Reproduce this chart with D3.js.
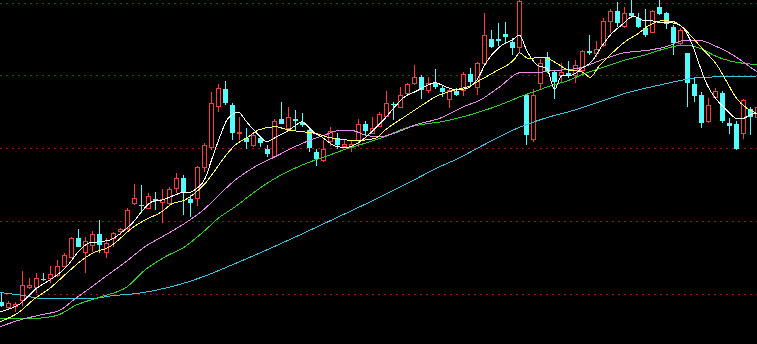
<!DOCTYPE html>
<html>
<head>
<meta charset="utf-8">
<script src="https://cdn.jsdelivr.net/npm/d3@7"></script>
<style>
  html, body { margin: 0; padding: 0; background: #000; overflow: hidden; }
  svg { display: block; }
</style>
</head>
<body>
<div id="chart-area"></div>
<script>
// candle values (price units), one entry per trading day
var opens = [42.3,37.3,38,44,57.3,57.3,64.7,66.3,69,78,
  87.3,105.7,92.3,99,110,92.3,105.7,112.7,115.7,141.3,
  139.5,135.7,145,142.3,141.3,155.7,165.7,144.7,145.7,176.7,
  196.7,238,254.7,239,210.7,205.7,199,205.7,194.7,188.3,
  224.7,216.3,224.7,222.3,214,192.3,184,203,205.7,198,
  197.3,204,220,211.3,218,228,240,237.3,251.3,260.7,
  266.7,254,261.3,255.7,244.7,253.3,254,270,256.7,281.3,
  304.7,304.7,310,302.3,296.7,249,204.7,260.7,287.3,272.3,
  269,271.3,269,274,293.3,291.3,299,323.3,333.3,318,
  331.3,325.7,315.7,312.3,337.3,330.7,317.3,300.7,290.7,260,
  249,223.3,246.7,250.7,220.7,220,211.3,234.7,227.3]
var closes = [38,41.3,40,59,59,65.7,64,69.7,78,89,
  105.7,96.7,103,110,99,101.3,110.7,114.7,134,145.7,
  138.5,148,143.3,144.7,154.7,165.7,151.3,141.3,177.3,199,
  241.3,255.7,240.7,211.3,212.3,202.3,209,200.7,190,223,
  220,226.7,223.3,219,195.7,185,194.7,213,199,199.7,
  200,219.7,213.3,215.7,230,240.7,239,249,259.7,266.7,
  254,261.3,257.3,252.3,254,249,270,262.3,281.3,309,
  296.7,303.3,307.3,295.7,343.3,209,249,281.3,272.3,262.3,
  272.3,268,279,293.3,291.3,294.7,323.3,333.3,321.3,330.7,
  328,317.3,309,333.3,330,320,300.7,314,260.7,248,
  220.7,239,253.3,223.3,218,194.7,244,227.3,237.3]
var highs = [50.7,42.7,42.3,73,66.3,70.7,70.7,78,84,91.3,
  106.7,115,107.3,113,124,105.7,112.3,116.3,135.7,159.7,
  159,151.3,152.3,154.7,157.3,170.7,169,149,178,200.7,
  252.3,260,263.3,240.7,227.3,215.7,210.7,207.3,199,224.7,
  242.3,237.3,234,230.7,217.3,194.7,204,217,210.7,204,
  204,224.7,223,227.3,232.3,253,241.7,257.3,261.3,279,
  269,267.3,274.7,259,255.7,255.7,272.3,275.7,282.3,330.7,
  314,320.7,322.3,305.7,344,249,254.7,284.7,292.3,274,
  280.7,283.3,284,294,309,303,325.7,334.7,342.3,337.3,
  344,330.7,334.7,334,344,332.3,319,315.7,290.7,265.7,
  252.3,245.7,255.7,253.3,225.7,223.3,244.7,237.3,240]
var lows = [37.3,34,32.3,38.3,54.7,51.3,63.3,61.3,67.3,77.3,
  86.7,96.7,70.7,92.3,91.3,85.7,97.3,109,114,139,
  130.7,135,134,120.7,139,151.3,129,127.3,138,172.3,
  194,232.3,239,204,204,194.7,197.3,197.3,187.3,187.3,
  220,214,214,217.3,192.3,178,182.3,198,194.7,195.7,
  192.3,196.7,208,210,216.7,226.7,224,235.7,249,259,
  244.7,251.3,254.7,247.3,235.7,248,248,258,249,279,
  295.7,298,300.7,289,292.3,199,202.3,254,270.7,244.7,
  260.7,265.7,260.7,268,289,287.3,297.3,310.7,317.3,315.7,
  325.7,315.7,307.3,310.7,329,314.7,289,299,237.3,242.3,
  216.3,221.3,245.7,221.3,210,194,204.7,209,226]

// moving averages: [day index, value]
var ma5 = [[-0.2,32.3],[2.6,40],[5,55.7],[6.9,64],[9.3,77.3],[11.2,94],[12.6,101.3],[14.1,102.3],
  [15.5,104],[17.6,114],[19.1,124],[20,132.3],[21.5,142.3],[22.9,144],[24.8,149],[26,151.7],
  [26.9,151.7],[27.9,155.7],[29.1,165.7],[30,184],[31.2,207.3],[32.2,224],[32.9,229],[33.8,232],
  [35,222.3],[36.5,210.7],[37.9,202.3],[39.3,207.3],[40.7,212.3],[41.9,218],[42.9,222.3],
  [43.8,217.3],[44.8,210.7],[45.7,207.3],[47.9,197.3],[49.3,196.7],[51.2,202.3],[53.4,215.7],
  [54.8,225.7],[56.2,237.3],[57.6,247.3],[59.1,252.3],[60.5,257.3],[61.9,261.3],[63.6,256.7],
  [65,254],[66.5,255.7],[67.9,264],[69.3,282.3],[71.2,297.3],[73.1,304.7],[74,309],[75,294],
  [76.5,279],[77.9,275.7],[79,254.7],[80,268],[81.5,269],[82.9,275.7],[84.3,282.3],[85.7,297.3],
  [87.2,310.7],[88.6,319],[90.3,328],[91.5,324],[92.9,323.3],[94.1,321.3],[95.5,321.3],
  [96.9,319],[97.9,310.7],[98.8,297.3],[99.8,277.3],[100.7,260.7],[102.2,244],[103.6,234],
  [105,225.7],[106,225.7],[106.9,229],[107.9,230.7]]
var ma10 = [[-0.2,22.3],[2.6,32.3],[4.5,44],[6.9,55.7],[9.3,70.7],[11.2,82.3],[13.1,91.3],
  [15.5,97.3],[16.7,104],[18.6,115.7],[20.5,124],[22.9,132.3],[24.3,140],[26.2,144],
  [27.6,150.7],[29.1,160.7],[30.5,173.5],[31.9,187.3],[33.4,199],[35.3,207.3],[36.7,214],
  [39.1,217.3],[41,214],[42.9,212.3],[44.8,210.7],[46.7,206.7],[49.3,204],[51.9,204],
  [53.4,205.7],[54.8,214],[57.6,227.3],[60.5,240.7],[62,247.3],[64.8,254],[66.9,258],
  [68.4,264],[70.5,272.3],[73.4,285.7],[74,291.3],[75.2,285.7],[77.6,286.7],[79.3,280.7],
  [81,274],[82.9,272.3],[84.1,266.7],[85.3,277.3],[87.2,290.7],[89.1,302.3],[91,310.7],
  [92.6,319],[94.5,323.3],[96,322.3],[97.2,317.3],[98.8,305.7],[100.3,294],[102.2,279],
  [103.6,262.3],[105,245.7],[106.5,235.7],[107.9,230.7]]
var ma20 = [[-0.2,17.3],[2.6,24],[5.5,29],[8.4,34],[10.3,44],[12.6,55.7],[15.5,70.7],
  [17.6,81.3],[20.5,97.3],[23.4,109],[26.2,120.7],[29.1,135.7],[31.2,150],[33.4,164],
  [36.2,177.3],[39.1,187.3],[41.9,197.3],[44.8,205.7],[46.2,209],[48.1,213.3],[50.2,213.3],
  [51.9,209],[53.8,207],[56.7,212.3],[59.1,219],[62.6,225.7],[66,237.3],[68.4,244],
  [71.2,257.3],[74.1,271.3],[76,271.3],[78.8,273.3],[82.4,275.7],[85.7,284],[88.6,290.7],
  [92.6,294],[95,297.3],[97.4,303.3],[99.8,303.3],[102.2,297.3],[104.5,289],[106.9,277.3],
  [107.9,272.3]]
var ma30 = [[-0.2,25],[4.5,25.5],[7.9,28.5],[10.7,39],[14.1,47],[17.9,57],[20.5,74],
  [23.4,87.3],[26.2,97.3],[28.6,110.7],[31.2,127],[33.4,137.3],[36.2,152.3],[39.1,165.7],
  [41.9,175.7],[44.8,184],[46.9,189],[49.1,194.7],[51.9,200.7],[54.8,207.3],[57.6,215.7],
  [60.5,220],[62.6,222],[66,227.3],[68.4,232.3],[71.2,239],[74.1,247.3],[76.5,253.3],
  [78.8,259],[80.5,262.3],[83.4,270.7],[86.2,277.3],[89.1,284],[91.9,289],[95,295.7],
  [97.4,299],[99.8,295.7],[102.2,287.3],[104.5,282.3],[106.9,280],[107.9,279]]
var ma60 = [[-0.2,51.5],[2.6,49],[6.5,45],[13.1,45.5],[15.5,48],[19.5,50.7],[24.3,57.3],
  [29.1,68],[31.2,74],[36.9,91],[42.6,109],[48.4,128],[54.1,147],[59.1,164.7],[62.6,177.3],
  [65,184.7],[68.4,197.3],[73.1,214],[77.6,225.7],[81.9,234],[86.2,244],[89.1,250.7],
  [93.4,258],[97.4,264],[99.8,266.7],[104.5,267.3],[107.9,268]]

var gridLevels = [50, 123, 196, 269, 341.5]

var width = 757, height = 344

var svg = d3.select('#chart-area')
  .append('svg')
  .attr('width', width)
  .attr('height', height)
  .style('background', '#000')

svg.append('rect')
  .attr('width', width)
  .attr('height', height)
  .attr('fill', '#000')

var x = d3.scaleLinear().domain([0, 108]).range([1.5, 757.5])
var y = d3.scaleLinear().domain([0, 344]).range([344, 0])

// dotted grid
svg.selectAll('line.grid').data(gridLevels).enter()
  .append('line')
  .attr('class', 'grid')
  .attr('x1', 0).attr('x2', width)
  .attr('y1', d => Math.round(y(d)) + 0.5)
  .attr('y2', d => Math.round(y(d)) + 0.5)
  .attr('stroke', '#8a1e1e')
  .attr('stroke-width', 1)
  .attr('stroke-dasharray', '2,4')

var days = d3.range(opens.length).map(function(i) {
  return { i: i, o: opens[i], c: closes[i], h: highs[i], l: lows[i], up: closes[i] >= opens[i] }
})

var UP = '#ff3c3c', DOWN = '#54fcfc'

var candle = svg.append('g').attr('shape-rendering', 'crispEdges')
  .selectAll('g').data(days).enter().append('g')

candle.append('line')
  .attr('x1', d => x(d.i)).attr('x2', d => x(d.i))
  .attr('y1', d => y(d.h)).attr('y2', d => y(d.l))
  .attr('stroke', d => d.up ? UP : DOWN)

candle.append('rect')
  .attr('x', d => d.up ? x(d.i) - 2 : x(d.i) - 2.5)
  .attr('width', d => d.up ? 4 : 5)
  .attr('y', d => y(Math.max(d.o, d.c)) + (d.up ? 0.5 : 0))
  .attr('height', d => Math.max(1, Math.abs(y(d.o) - y(d.c))))
  .attr('fill', d => d.up ? '#000' : DOWN)
  .attr('stroke', d => d.up ? UP : 'none')

var line = d3.line()
  .x(d => x(d[0]))
  .y(d => y(d[1]))
  .curve(d3.curveMonotoneX)

var averages = [
  { data: ma60, color: '#3cc4dc' },
  { data: ma30, color: '#2ed02e' },
  { data: ma20, color: '#e88ae8' },
  { data: ma10, color: '#ffff60' },
  { data: ma5, color: '#ffffff' }
]

// pixel lines like the trading terminal draws them
svg.selectAll('path.ma').data(averages).enter()
  .append('path')
  .attr('class', 'ma')
  .attr('d', d => line(d.data))
  .attr('fill', 'none')
  .attr('stroke', d => d.color)
  .attr('stroke-width', 1)
  .attr('shape-rendering', 'crispEdges')
</script>
</body>
</html>
